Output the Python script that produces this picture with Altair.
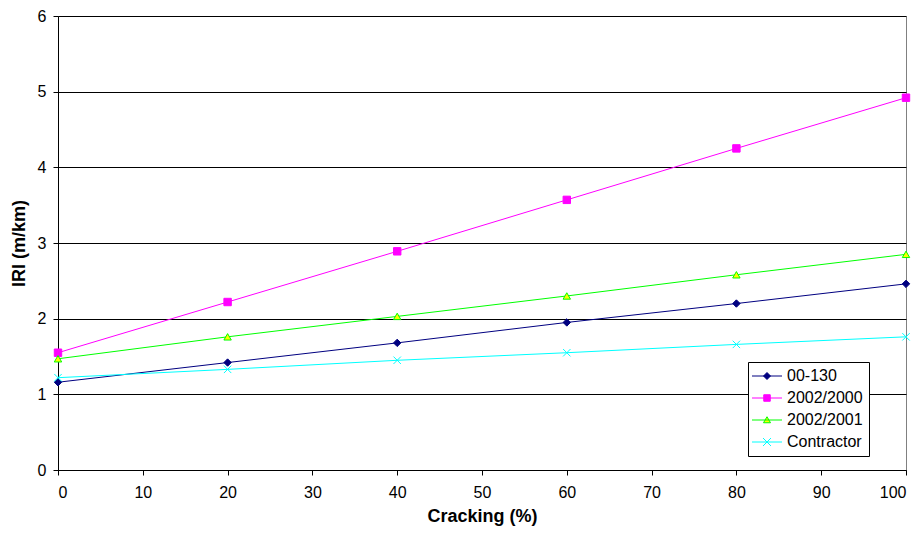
import altair as alt
import pandas as pd

cracking = [0, 20, 40, 60, 80, 100]
s_00130 = [1.16, 1.42, 1.68, 1.95, 2.20, 2.46]
s_2000 = [1.55, 2.22, 2.89, 3.57, 4.25, 4.92]
s_2001 = [1.47, 1.76, 2.03, 2.30, 2.58, 2.85]
s_contr = [1.22, 1.33, 1.45, 1.55, 1.66, 1.76]

series_names = ["00-130", "2002/2000", "2002/2001", "Contractor"]
series_values = [s_00130, s_2000, s_2001, s_contr]
stroke_colors = ["#000080", "#FF00FF", "#00FF00", "#00FFFF"]
fill_colors = ["#000080", "#FF00FF", "#FFFF00", "transparent"]
plot_shapes = ["diamond", "square", "triangle-up", "M-1,-1L1,1M-1,1L1,-1"]
legend_shapes = [
    "M-1,0H5M2,-0.7L2.7,0L2,0.7L1.3,0Z",
    "M-1,0H5M1.35,-0.65H2.65V0.65H1.35Z",
    "M-1,0H5M2,-0.65L2.7,0.55H1.3Z",
    "M-1,0H5M1.2,-0.8L2.8,0.8M1.2,0.8L2.8,-0.8",
]

rows = []
for name, vals in zip(series_names, series_values):
    for x, y in zip(cracking, vals):
        rows.append({"series": name, "cracking": x, "iri": y})
df = pd.DataFrame(rows)

font = "Liberation Sans"

x_enc = alt.X("cracking:Q", scale=alt.Scale(domain=[0, 100], nice=False),
              axis=alt.Axis(title="Cracking (%)", values=list(range(0, 101, 10)),
                            grid=False, labelPadding=9, titlePadding=7))
y_enc = alt.Y("iri:Q", scale=alt.Scale(domain=[0, 6], nice=False),
              axis=alt.Axis(title="IRI (m/km)", values=list(range(0, 7)),
                            grid=True, labelPadding=7, titlePadding=9))

stroke_scale = alt.Scale(domain=series_names, range=stroke_colors)
fill_scale = alt.Scale(domain=series_names, range=fill_colors)

lines = alt.Chart(df).mark_line(strokeWidth=1).encode(
    x=x_enc, y=y_enc,
    stroke=alt.Stroke("series:N", scale=stroke_scale, legend=None),
    detail="series:N",
)

points = alt.Chart(df).mark_point(filled=False, strokeWidth=1, opacity=1).encode(
    x=x_enc, y=y_enc,
    stroke=alt.Stroke("series:N", scale=stroke_scale, legend=None),
    fill=alt.Fill("series:N", scale=fill_scale, legend=None),
    shape=alt.Shape("series:N", scale=alt.Scale(domain=series_names, range=plot_shapes), legend=None),
    size=alt.value(55),
)

legend_layer = alt.Chart(df).transform_filter(alt.datum.cracking < -1).mark_point(
    filled=False, strokeWidth=1, opacity=1
).encode(
    x=x_enc, y=y_enc,
    stroke=alt.Stroke("series:N", scale=stroke_scale, legend=alt.Legend(title=None)),
    fill=alt.Fill("series:N", scale=fill_scale, legend=alt.Legend(title=None)),
    shape=alt.Shape("series:N", scale=alt.Scale(domain=series_names, range=legend_shapes),
                    legend=alt.Legend(title=None)),
    size=alt.value(100),
)

chart = alt.layer(lines, points, legend_layer).resolve_scale(
    stroke="independent", fill="independent", shape="independent"
).properties(
    width=848, height=454,
    autosize=alt.AutoSizeParams(type="none"),
    padding={"left": 50, "top": 8, "right": 7, "bottom": 57},
).configure_view(
    stroke="#808080", strokeWidth=1
).configure_axis(
    labelFont=font, titleFont=font, labelFontSize=16, titleFontSize=18,
    titleFontWeight="bold", labelColor="black", titleColor="black",
    domainColor="black", tickColor="black", gridColor="black",
    tickSize=5, domainWidth=1, gridWidth=1,
).configure_legend(
    orient="none", legendX=690, legendY=346,
    strokeColor="black", fillColor="white", padding=6,
    labelFont=font, labelFontSize=16, labelColor="black",
    symbolSize=100, symbolStrokeWidth=1, labelOffset=22,
    symbolOffset=-5, rowPadding=6, symbolType="circle",
)

chart.save("out.html", embed_options={"renderer": "svg", "actions": False})
